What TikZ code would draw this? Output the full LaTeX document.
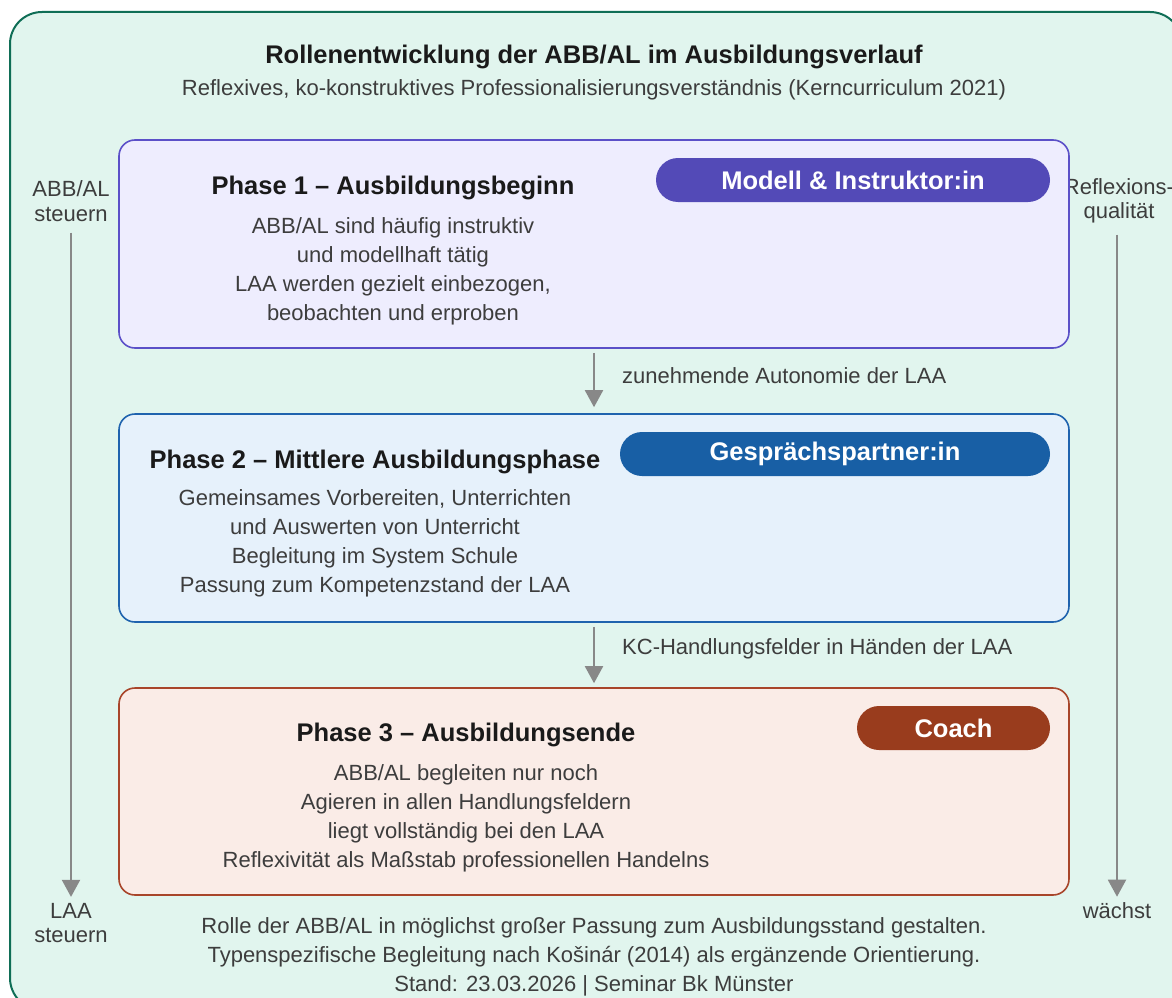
\documentclass[tikz,border=0pt]{standalone}
\usepackage{fontspec}
\setmainfont{Liberation Sans}
\usetikzlibrary{arrows.meta,positioning}
\definecolor{outerfill}{HTML}{E1F5EE}
\definecolor{outerdraw}{HTML}{0F6E56}
\definecolor{p1fill}{HTML}{EEEDFE}
\definecolor{p1draw}{HTML}{5B50C8}
\definecolor{p1pill}{HTML}{534AB7}
\definecolor{p2fill}{HTML}{E6F1FB}
\definecolor{p2draw}{HTML}{1F63AE}
\definecolor{p2pill}{HTML}{185FA5}
\definecolor{p3fill}{HTML}{FAECE7}
\definecolor{p3draw}{HTML}{A8452A}
\definecolor{p3pill}{HTML}{993C1D}
\definecolor{txtdark}{HTML}{1A1A1A}
\definecolor{txtmid}{HTML}{3D3D3D}
\definecolor{arrgray}{HTML}{888888}
\tikzset{
  phasebox/.style={draw, line width=1.6pt, rounded corners=16pt, minimum width=950pt, minimum height=208pt, inner sep=0pt},
  pill/.style={rounded corners=22pt, minimum height=44pt, inner sep=0pt, text=white, font=\fontsize{25.5}{30}\selectfont\bfseries},
  ptitle/.style={text=txtdark, font=\fontsize{25.5}{30}\selectfont\bfseries, inner sep=0pt},
  pbody/.style={text=txtmid, font=\fontsize{22}{29}\selectfont, align=center, inner sep=0pt},
  sidetxt/.style={text=txtmid, font=\fontsize{22}{24.5}\selectfont, align=center, inner sep=0pt},
  arr/.style={draw=arrgray, line width=2pt, -{Triangle[width=18pt,length=17pt]}, arrgray},
}
\begin{document}
\begin{tikzpicture}[x=1pt,y=-1pt]
\useasboundingbox (0,0) rectangle (1172,998);
\begin{scope}
\clip (0,0) rectangle (1172,998);
\draw[fill=outerfill, draw=outerdraw, line width=2pt, rounded corners=32pt] (10,12) rectangle (1182,1010);
\end{scope}

\node[text=txtdark, font=\fontsize{25.5}{30}\selectfont\bfseries, inner sep=0pt] (title) at (594,57) {Rollenentwicklung der ABB/AL im Ausbildungsverlauf};
\node[text=txtmid, font=\fontsize{22}{26}\selectfont, inner sep=0pt] (subtitle) at (594,90) {Reflexives, ko-konstruktives Professionalisierungsverständnis (Kerncurriculum 2021)};

% side axes (drawn before boxes so the box edge overlaps like the reference)
\node[sidetxt] (sl1) at (71,201) {ABB/AL\\steuern};
\node[sidetxt] (sl2) at (71,923) {LAA\\steuern};
\draw[arr, shorten <=11pt, shorten >=6pt] (sl1.south) -- (sl2.north);
\node[sidetxt] (sr1) at (1119,201) {Reflexions-\\qualität};
\node[sidetxt] (sr2) at (1117,911) {wächst};
\draw[arr, shorten <=11pt, shorten >=6pt] (sr1.south -| sr2.north) -- (sr2.north);

% Phase 1
\node[phasebox, fill=p1fill, draw=p1draw] (p1) at (594,244) {};
\node[pill, fill=p1pill, minimum width=394pt] (pill1) at (853,180) {Modell \& Instruktor:in};
\node[ptitle] (t1) at (393,188) {Phase 1 – Ausbildungsbeginn};
\node[pbody, anchor=north] (b1) at (393,217) {ABB/AL sind häufig instruktiv\\und modellhaft tätig\\LAA werden gezielt einbezogen,\\beobachten und erproben};

% Phase 2
\node[phasebox, fill=p2fill, draw=p2draw] (p2) at (594,518) {};
\node[pill, fill=p2pill, minimum width=430pt] (pill2) at (835,454) {Gesprächspartner:in};
\node[ptitle] (t2) at (375,462) {Phase 2 – Mittlere Ausbildungsphase};
\node[pbody, anchor=north] (b2) at (375,489) {Gemeinsames Vorbereiten, Unterrichten\\und Auswerten von Unterricht\\Begleitung im System Schule\\Passung zum Kompetenzstand der LAA};

% Phase 3
\node[phasebox, fill=p3fill, draw=p3draw, minimum height=207pt] (p3) at (594,791.5) {};
\node[pill, fill=p3pill, minimum width=193pt] (pill3) at (953.5,728) {Coach};
\node[ptitle] (t3) at (466,735) {Phase 3 – Ausbildungsende};
\node[pbody, anchor=north] (b3) at (466,764) {ABB/AL begleiten nur noch\\Agieren in allen Handlungsfeldern\\liegt vollständig bei den LAA\\Reflexivität als Maßstab professionellen Handelns};

% connectors between phases
\draw[arr, shorten <=4pt, shorten >=6pt] (p1.south) -- (p2.north);
\node[sidetxt, anchor=west] (l1) at (622,376) {zunehmende Autonomie der LAA};
\draw[arr, shorten <=4pt, shorten >=4pt] (p2.south) -- (p3.north);
\node[sidetxt, anchor=west] (l2) at (622,649) {KC-Handlungsfelder in Händen der LAA};

% footer
\node[pbody, anchor=north] (foot) at (594,917) {Rolle der ABB/AL in möglichst großer Passung zum Ausbildungsstand gestalten.\\Typenspezifische Begleitung nach Košinár (2014) als ergänzende Orientierung.\\Stand: 23.03.2026 | Seminar Bk Münster};
\end{tikzpicture}
\end{document}
